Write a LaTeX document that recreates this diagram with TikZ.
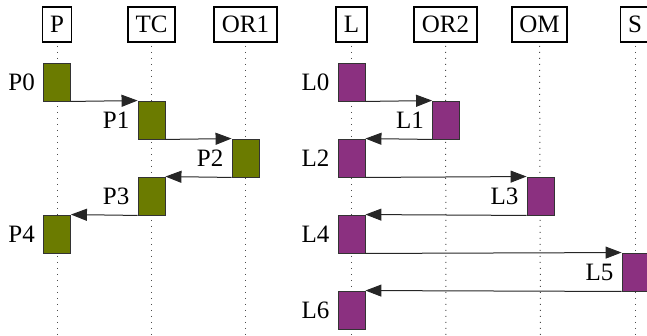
\documentclass[tikz,border=0pt]{standalone}
\usepackage{fontspec}
\setmainfont{Liberation Serif}
\newfontfamily\diagserif{Liberation Serif}
\usetikzlibrary{arrows.meta,positioning}
\definecolor{olivebox}{RGB}{107,123,0}
\definecolor{purplebox}{RGB}{139,48,128}
\begin{document}
\begin{tikzpicture}[x=1pt,y=-1pt,
  font=\diagserif\fontsize{25}{29}\selectfont,
  head/.style={draw=black,line width=1.8pt,minimum height=35pt,inner xsep=7.5pt,inner ysep=0pt,fill=white},
  life/.style={draw=black!70,line width=1pt,dash pattern=on 1pt off 5pt},
  actbox/.style={draw=black!80,line width=0.9pt,minimum width=27pt,minimum height=38pt,inner sep=0pt},
  pbox/.style={actbox,fill=olivebox},
  lbox/.style={actbox,fill=purplebox},
  lbl/.style={inner sep=2pt},
  msg/.style={draw=black!85,line width=1pt,-{Triangle[length=16pt,width=12pt]}}
]
\path[use as bounding box,clip] (0,0) rectangle (647,336);
% headers
\node[head] (hP) at (57,24.5) {P};
\node[head] (hTC) at (151.5,24.5) {TC};
\node[head] (hOR1) at (245.5,24.5) {OR1};
\node[head] (hL) at (351.5,24.5) {L};
\node[head] (hOR2) at (445.5,24.5) {OR2};
\node[head] (hOM) at (539.5,24.5) {OM};
\node[head] (hS) at (635,24.5) {S};
% lifelines
\coordinate (eP) at (57,340);
\coordinate (eTC) at (151.5,340);
\coordinate (eOR1) at (245.5,340);
\coordinate (eL) at (351.5,340);
\coordinate (eOR2) at (446,340);
\coordinate (eOM) at (540.5,340);
\coordinate (eS) at (635,340);
\draw[life] ([yshift=-3pt]hP.south) -- (eP);
\draw[life] ([yshift=-3pt]hTC.south) -- (eTC);
\draw[life] ([yshift=-3pt]hOR1.south) -- (eOR1);
\draw[life] ([yshift=-3pt]hL.south) -- (eL);
\draw[life] ([yshift=-3pt]hOR2.south) -- (eOR2);
\draw[life] ([yshift=-3pt]hOM.south) -- (eOM);
\draw[life] ([yshift=-3pt]hS.south) -- (eS);
% P side activations
\node[pbox] (p0) at (57,82) {};
\node[pbox] (p1) at (151.5,120) {};
\node[pbox] (p2) at (245.5,158) {};
\node[pbox] (p3) at (151.5,196) {};
\node[pbox] (p4) at (57,234) {};
\node[lbl,left=6pt of p0] (tp0) {P0};
\node[lbl,left=6pt of p1] (tp1) {P1};
\node[lbl,left=6pt of p2] (tp2) {P2};
\node[lbl,left=6pt of p3] (tp3) {P3};
\node[lbl,left=6pt of p4] (tp4) {P4};
\draw[msg] (p0.south east) -- (p1.north west);
\draw[msg] (p1.south east) -- (p2.north west);
\draw[msg] (p2.south west) -- (p3.north east);
\draw[msg] (p3.south west) -- (p4.north east);
% L side activations
\node[lbox] (l0) at (351.5,82) {};
\node[lbox] (l1) at (446,120) {};
\node[lbox] (l2) at (351.5,158) {};
\node[lbox] (l3) at (540.5,196) {};
\node[lbox] (l4) at (351.5,234) {};
\node[lbox] (l5) at (635.5,272) {};
\node[lbox] (l6) at (351.5,310) {};
\node[lbl,left=6pt of l0] (tl0) {L0};
\node[lbl,left=6pt of l1] (tl1) {L1};
\node[lbl,left=6pt of l2] (tl2) {L2};
\node[lbl,left=6pt of l3] (tl3) {L3};
\node[lbl,left=6pt of l4] (tl4) {L4};
\node[lbl,left=6pt of l5] (tl5) {L5};
\node[lbl,left=6pt of l6] (tl6) {L6};
\draw[msg] (l0.south east) -- (l1.north west);
\draw[msg] (l1.south west) -- (l2.north east);
\draw[msg] (l2.south east) -- (l3.north west);
\draw[msg] (l3.south west) -- (l4.north east);
\draw[msg] (l4.south east) -- (l5.north west);
\draw[msg] (l5.south west) -- (l6.north east);
\end{tikzpicture}
\end{document}
